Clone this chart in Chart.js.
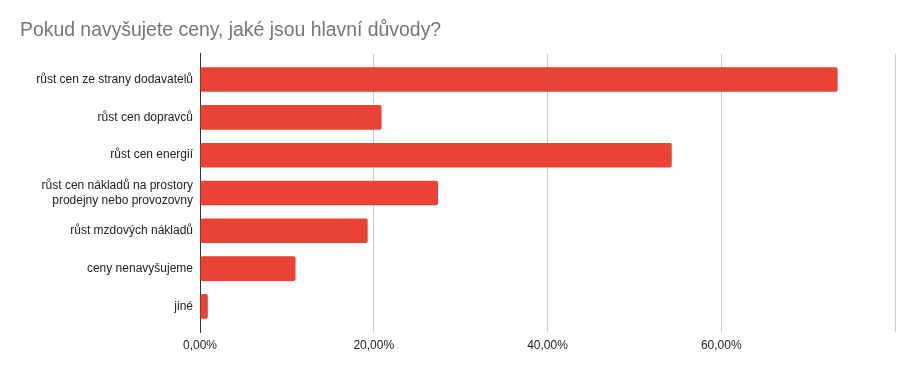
<!DOCTYPE html>
<html>
<head>
<meta charset="utf-8">
<title>Pokud navyšujete ceny</title>
<script src="https://cdn.jsdelivr.net/npm/chart.js"></script>
<style>
  body { margin: 0; background: #fff; }
</style>
</head>
<body>
<canvas id="reasonsChart" width="913" height="371"></canvas>
<script>
const titleText = "Pokud navyšujete ceny, jaké jsou hlavní důvody?";
const categories = [
  "růst cen ze strany dodavatelů",
  "růst cen dopravců",
  "růst cen energií",
  ["růst cen nákladů na prostory", "prodejny nebo provozovny"],
  "růst mzdových nákladů",
  "ceny nenavyšujeme",
  "jiné",
];
const shares = [73.4, 20.9, 54.3, 27.4, 19.3, 11.0, 0.9];
const xTickValues = [0, 20, 40, 60, 80];
const xTickLabels = ["0,00%", "20,00%", "40,00%", "60,00%", ""];

const fontFamily = "'Liberation Sans', Arial, sans-serif";

const ctx = document.getElementById("reasonsChart").getContext("2d");
new Chart(ctx, {
  type: "bar",
  data: {
    datasets: [{
      data: shares.map((v, i) => ({ x: v, y: i })),
      backgroundColor: "#ea4335",
      borderRadius: 2,
      borderSkipped: false,
      barPercentage: 0.65,
      categoryPercentage: 1,
    }],
  },
  options: {
    indexAxis: "y",
    responsive: false,
    animation: false,
    layout: { padding: { left: 20, right: 18, top: 0, bottom: 0 } },
    plugins: {
      legend: { display: false },
      tooltip: { enabled: false },
      title: {
        display: true,
        text: titleText,
        align: "start",
        color: "#757575",
        font: { family: fontFamily, size: 19.4, weight: "normal" },
        padding: { top: 19, bottom: 11.7 },
      },
    },
    scales: {
      x: {
        type: "linear",
        min: 0,
        max: 80,
        afterBuildTicks: (scale) => {
          scale.ticks = xTickValues.map((v) => ({ value: v }));
        },
        afterFit: (scale) => { scale.height = 39; },
        grid: { color: "#cccccc", drawTicks: false },
        border: { display: false },
        ticks: {
          padding: 6,
          color: "#222222",
          font: { family: fontFamily, size: 12 },
          callback: (value, index) => xTickLabels[index],
        },
      },
      y: {
        type: "linear",
        reverse: true,
        offset: false,
        min: -0.677,
        max: categories.length - 1 + 0.677,
        afterBuildTicks: (scale) => {
          scale.ticks = categories.map((_, i) => ({ value: i }));
        },
        afterFit: (scale) => { scale.width = 180; },
        grid: { display: false, drawTicks: false },
        border: { display: true, color: "#333333", width: 1 },
        ticks: {
          autoSkip: false,
          padding: 7,
          color: "#222222",
          font: { family: fontFamily, size: 12, lineHeight: 1.25 },
          callback: (value) => categories[value],
        },
      },
    },
  },
});
</script>
</body>
</html>
